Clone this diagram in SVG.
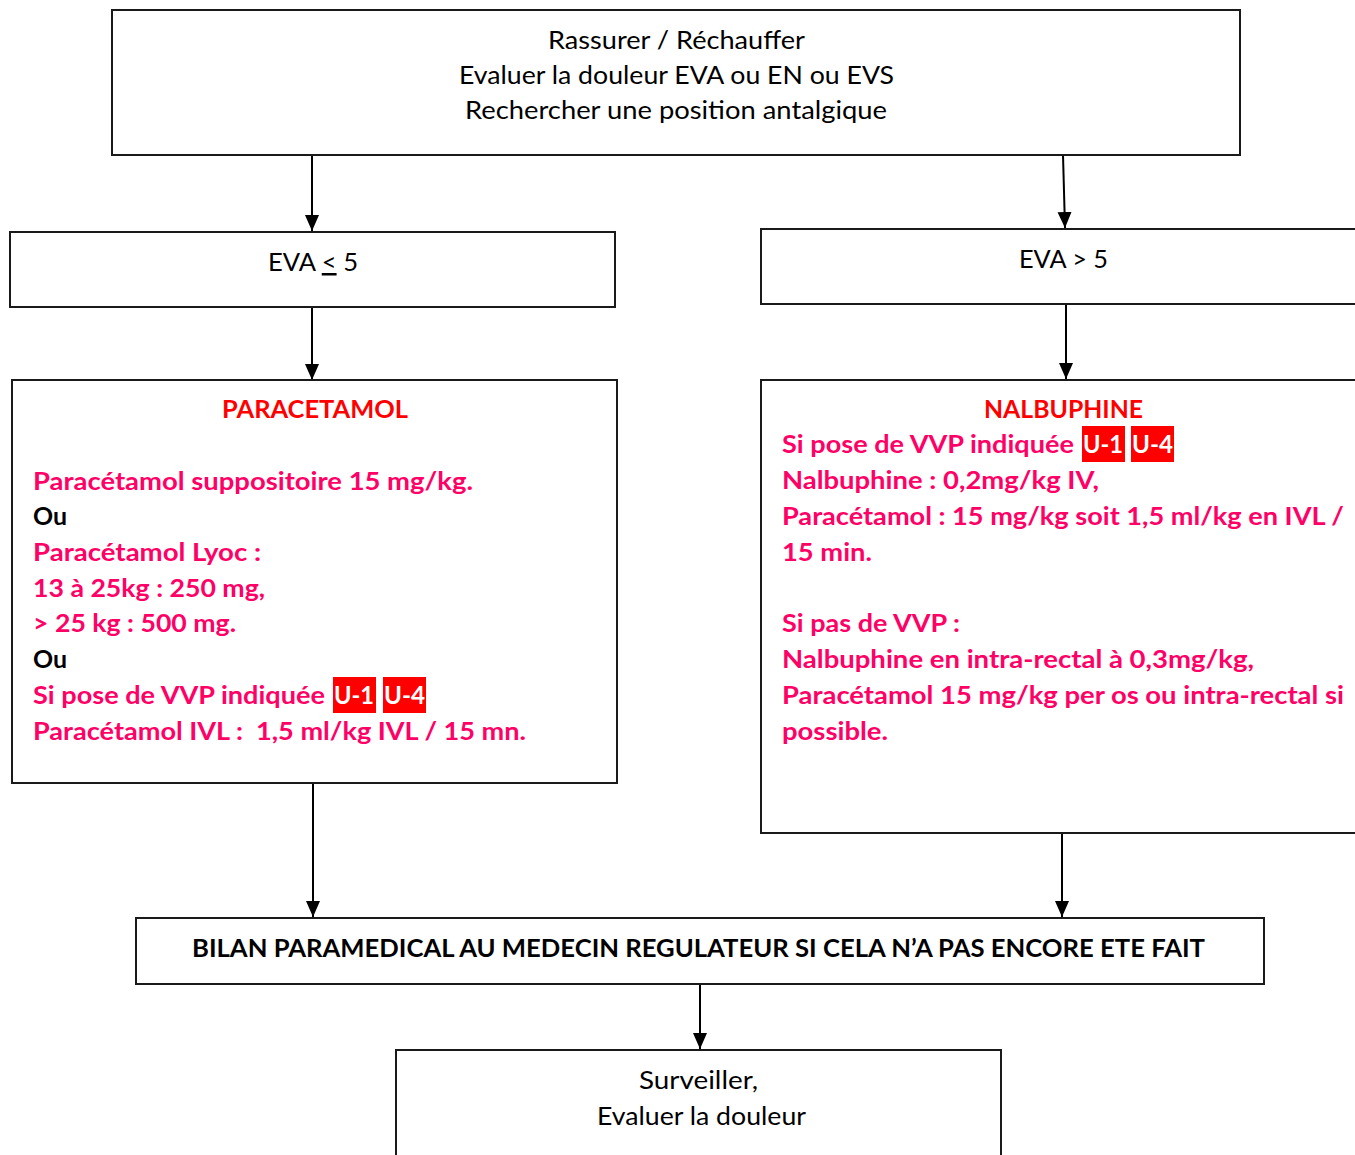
<svg xmlns="http://www.w3.org/2000/svg" width="1355" height="1155" viewBox="0 0 1355 1155">
  <style>
    .box { fill: #ffffff; stroke: #1a1a1a; stroke-width: 2; }
    .edge { stroke: #000000; stroke-width: 2; fill: none; }
    text { font-family: Lato, "Open Sans", "Liberation Sans", sans-serif; font-size: 25px; white-space: pre; }
    .plain { fill: #000000; }
    .title { fill: #ff0000; font-weight: bold; }
    .drug { fill: #ff0066; font-weight: bold; }
    .bold { fill: #000000; font-weight: bold; }
    .tag { fill: #ff0000; }
    .tagtext { fill: #ffffff; font-weight: bold; }
  </style>
  <defs>
    <marker id="arrow" markerUnits="userSpaceOnUse" markerWidth="16" markerHeight="16" viewBox="0 0 16 16" refX="16" refY="8" orient="auto">
      <path d="M0,1 L16,8 L0,15 Z" fill="#000000"/>
    </marker>
  </defs>

  <rect width="1355" height="1155" fill="#ffffff"/>

  <!-- connectors -->
  <g id="connectors">
    <line class="edge" x1="312" y1="155" x2="312" y2="231" marker-end="url(#arrow)"/>
    <line class="edge" x1="1063" y1="155" x2="1065" y2="228" marker-end="url(#arrow)"/>
    <line class="edge" x1="312" y1="307" x2="312" y2="380" marker-end="url(#arrow)"/>
    <line class="edge" x1="1066" y1="304" x2="1066" y2="379" marker-end="url(#arrow)"/>
    <line class="edge" x1="313" y1="783" x2="313" y2="917" marker-end="url(#arrow)"/>
    <line class="edge" x1="1062" y1="833" x2="1062" y2="917" marker-end="url(#arrow)"/>
    <line class="edge" x1="700" y1="984" x2="700" y2="1049" marker-end="url(#arrow)"/>
  </g>

  <!-- initial care -->
  <g id="node-accueil">
    <rect class="box" x="112" y="10" width="1128" height="145"/>
    <text class="plain" x="548" y="49" textLength="257" lengthAdjust="spacingAndGlyphs">Rassurer / Réchauffer</text>
    <text class="plain" x="459" y="84" textLength="435" lengthAdjust="spacingAndGlyphs">Evaluer la douleur EVA ou EN ou EVS</text>
    <text class="plain" x="465" y="119" textLength="422" lengthAdjust="spacingAndGlyphs">Rechercher une position antalgique</text>
  </g>

  <!-- pain score low -->
  <g id="node-eva-faible">
    <rect class="box" x="10" y="232" width="605" height="75"/>
    <text class="plain" x="268" y="271" textLength="90" lengthAdjust="spacingAndGlyphs">EVA <tspan text-decoration="underline">&lt;</tspan> 5</text>
  </g>

  <!-- pain score high -->
  <g id="node-eva-forte">
    <rect class="box" x="761" y="229" width="620" height="75"/>
    <text class="plain" x="1019" y="268" textLength="89" lengthAdjust="spacingAndGlyphs">EVA &gt; 5</text>
  </g>

  <!-- paracetamol protocol -->
  <g id="node-paracetamol">
    <rect class="box" x="12" y="380" width="605" height="403"/>
    <text class="title" x="222" y="418" textLength="186" lengthAdjust="spacingAndGlyphs">PARACETAMOL</text>
    <text class="drug" x="33" y="490" textLength="440" lengthAdjust="spacingAndGlyphs">Paracétamol suppositoire 15 mg/kg.</text>
    <text class="bold" x="33" y="525" textLength="34" lengthAdjust="spacingAndGlyphs">Ou</text>
    <text class="drug" x="33" y="561" textLength="228" lengthAdjust="spacingAndGlyphs">Paracétamol Lyoc :</text>
    <text class="drug" x="33" y="597" textLength="232" lengthAdjust="spacingAndGlyphs">13 à 25kg : 250 mg,</text>
    <text class="drug" x="33" y="632" textLength="203" lengthAdjust="spacingAndGlyphs">&gt; 25 kg : 500 mg.</text>
    <text class="bold" x="33" y="668" textLength="34" lengthAdjust="spacingAndGlyphs">Ou</text>
    <text class="drug" x="33" y="704" textLength="292" lengthAdjust="spacingAndGlyphs">Si pose de VVP indiquée</text>
    <rect class="tag" x="333" y="677" width="43" height="36"/>
    <text class="tagtext" x="334" y="704" textLength="40" lengthAdjust="spacingAndGlyphs">U-1</text>
    <rect class="tag" x="383" y="677" width="43" height="36"/>
    <text class="tagtext" x="384" y="704" textLength="41" lengthAdjust="spacingAndGlyphs">U-4</text>
    <text class="drug" x="33" y="740" textLength="493" lengthAdjust="spacingAndGlyphs">Paracétamol IVL :  1,5 ml/kg IVL / 15 mn.</text>
  </g>

  <!-- nalbuphine protocol -->
  <g id="node-nalbuphine">
    <rect class="box" x="761" y="380" width="620" height="453"/>
    <text class="title" x="984" y="418" textLength="159" lengthAdjust="spacingAndGlyphs">NALBUPHINE</text>
    <text class="drug" x="782" y="453" textLength="292" lengthAdjust="spacingAndGlyphs">Si pose de VVP indiquée</text>
    <rect class="tag" x="1082" y="426" width="43" height="36"/>
    <text class="tagtext" x="1083" y="453" textLength="40" lengthAdjust="spacingAndGlyphs">U-1</text>
    <rect class="tag" x="1131" y="426" width="43" height="36"/>
    <text class="tagtext" x="1132" y="453" textLength="41" lengthAdjust="spacingAndGlyphs">U-4</text>
    <text class="drug" x="782" y="489" textLength="317" lengthAdjust="spacingAndGlyphs">Nalbuphine : 0,2mg/kg IV,</text>
    <text class="drug" x="782" y="525" textLength="562" lengthAdjust="spacingAndGlyphs">Paracétamol : 15 mg/kg soit 1,5 ml/kg en IVL /</text>
    <text class="drug" x="782" y="561" textLength="90" lengthAdjust="spacingAndGlyphs">15 min.</text>
    <text class="drug" x="782" y="632" textLength="178" lengthAdjust="spacingAndGlyphs">Si pas de VVP :</text>
    <text class="drug" x="782" y="668" textLength="472" lengthAdjust="spacingAndGlyphs">Nalbuphine en intra-rectal à 0,3mg/kg,</text>
    <text class="drug" x="782" y="704" textLength="562" lengthAdjust="spacingAndGlyphs">Paracétamol 15 mg/kg per os ou intra-rectal si</text>
    <text class="drug" x="782" y="740" textLength="106" lengthAdjust="spacingAndGlyphs">possible.</text>
  </g>

  <!-- report to the regulating doctor -->
  <g id="node-bilan">
    <rect class="box" x="136" y="918" width="1128" height="66"/>
    <text class="bold" x="192" y="957" textLength="1013" lengthAdjust="spacingAndGlyphs">BILAN PARAMEDICAL AU MEDECIN REGULATEUR SI CELA N’A PAS ENCORE ETE FAIT</text>
  </g>

  <!-- follow-up -->
  <g id="node-surveiller">
    <rect class="box" x="396" y="1050" width="605" height="130"/>
    <text class="plain" x="639" y="1089" textLength="119" lengthAdjust="spacingAndGlyphs">Surveiller,</text>
    <text class="plain" x="597" y="1125" textLength="209" lengthAdjust="spacingAndGlyphs">Evaluer la douleur</text>
  </g>
</svg>
